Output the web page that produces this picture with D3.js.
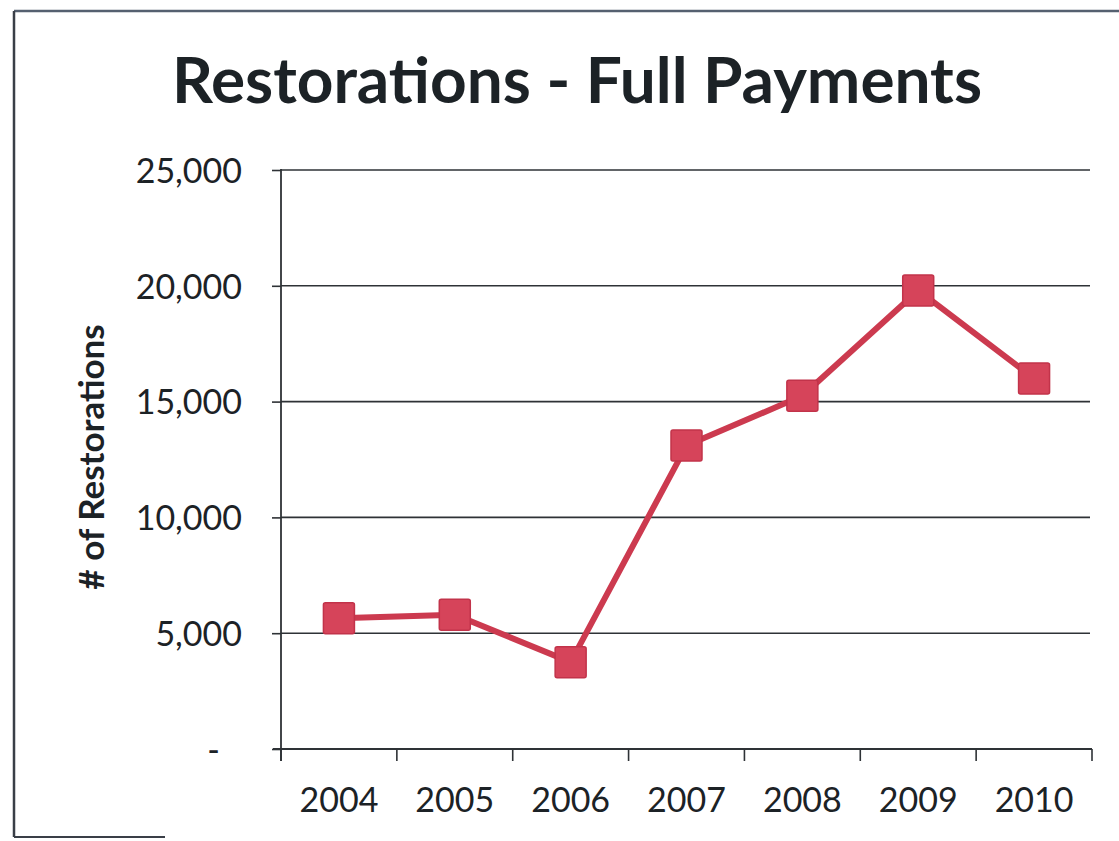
<!DOCTYPE html>
<html>
<head>
<meta charset="utf-8">
<script src="https://cdn.jsdelivr.net/npm/d3@7"></script>
<style>
  html, body { margin: 0; padding: 0; background: #fff; }
  svg { display: block; }
</style>
</head>
<body>
<svg id="chart" width="1119" height="841"></svg>
<script>
// Full-payment restorations per year
const years = ["2004", "2005", "2006", "2007", "2008", "2009", "2010"];
const restorations = [5650, 5800, 3750, 13100, 15250, 19800, 16000];
const yTicks = [0, 5000, 10000, 15000, 20000, 25000];
const titleText = "Restorations - Full Payments";
const yAxisTitle = "# of Restorations";

const svg = d3.select("#chart");
const W = 1119, H = 841;
const plot = { left: 281, right: 1092, top: 170, bottom: 749 };
const font = "Lato, 'Noto Sans', sans-serif";
const ink = "#1c2226";
const lineColor = "#cc3a4f";

svg.append("rect").attr("width", W).attr("height", H).attr("fill", "#fff");

// outer frame of the slide
const frame = svg.append("g").attr("stroke", "#3a3f47").attr("fill", "none");
frame.append("line").attr("x1", 14).attr("x2", W).attr("y1", 11).attr("y2", 11)
  .attr("stroke-width", 2.5).attr("stroke", "#556070");
frame.append("line").attr("x1", 14).attr("x2", 14).attr("y1", 11).attr("y2", 837).attr("stroke-width", 2.5);
frame.append("line").attr("x1", 14).attr("x2", 165).attr("y1", 837).attr("y2", 837).attr("stroke-width", 2);

const x = d3.scaleBand().domain(years).range([plot.left, plot.right]);
const y = d3.scaleLinear().domain([0, 25000]).range([plot.bottom, plot.top]);

// horizontal gridlines
svg.append("g")
  .selectAll("line")
  .data(yTicks.filter(d => d > 0))
  .join("line")
  .attr("x1", plot.left).attr("x2", plot.right - 2)
  .attr("y1", d => y(d)).attr("y2", d => y(d))
  .attr("stroke", "#2e3236").attr("stroke-width", 1.6);

// y axis (zero shown as a dash, accounting style)
const yAxis = svg.append("g")
  .attr("transform", `translate(${plot.left},0)`)
  .call(d3.axisLeft(y).tickValues(yTicks).tickSize(9).tickPadding(30)
    .tickFormat(d => d === 0 ? "-" : d3.format(",")(d)));
yAxis.select(".domain").remove();
yAxis.selectAll(".tick line").attr("stroke", "#2e3236").attr("stroke-width", 1.6);
yAxis.selectAll(".tick text")
  .attr("fill", ink).attr("font-family", font).attr("font-size", 34)
  .attr("dy", "0.36em")
  .attr("dx", d => d === 0 ? -22 : 0);
svg.append("line")
  .attr("x1", plot.left).attr("x2", plot.left)
  .attr("y1", plot.top - 1).attr("y2", plot.bottom + 12)
  .attr("stroke", "#2e3236").attr("stroke-width", 1.8);

// x axis with ticks at category boundaries
svg.append("line")
  .attr("x1", plot.left - 8).attr("x2", plot.right)
  .attr("y1", plot.bottom).attr("y2", plot.bottom)
  .attr("stroke", "#2e3236").attr("stroke-width", 1.8);
const bounds = years.map(d => x(d)).concat([plot.right]);
svg.append("g")
  .selectAll("line")
  .data(bounds)
  .join("line")
  .attr("x1", d => d).attr("x2", d => d)
  .attr("y1", plot.bottom).attr("y2", plot.bottom + 12)
  .attr("stroke", "#2e3236").attr("stroke-width", 1.6);
svg.append("g")
  .selectAll("text")
  .data(years)
  .join("text")
  .attr("x", d => x(d) + x.bandwidth() / 2)
  .attr("y", 812)
  .attr("text-anchor", "middle")
  .attr("font-family", font).attr("font-size", 34).attr("fill", ink)
  .text(d => d);

// series line
const line = d3.line()
  .x((d, i) => x(years[i]) + x.bandwidth() / 2)
  .y(d => y(d));
svg.append("path")
  .datum(restorations)
  .attr("d", line)
  .attr("fill", "none")
  .attr("stroke", lineColor)
  .attr("stroke-width", 6)
  .attr("stroke-linejoin", "round");

// square markers
const ms = 31;
svg.append("g")
  .selectAll("rect")
  .data(restorations)
  .join("rect")
  .attr("x", (d, i) => x(years[i]) + x.bandwidth() / 2 - ms / 2)
  .attr("y", d => y(d) - ms / 2)
  .attr("width", ms).attr("height", ms)
  .attr("rx", 2)
  .attr("fill", "#d6445a")
  .attr("stroke", "#c2334a")
  .attr("stroke-width", 1.5);

// title
svg.append("text")
  .attr("x", 577).attr("y", 103)
  .attr("text-anchor", "middle")
  .attr("font-family", font).attr("font-weight", 700).attr("font-size", 64)
  .attr("fill", ink)
  .attr("textLength", 810).attr("lengthAdjust", "spacingAndGlyphs")
  .text(titleText);

// y axis title
svg.append("text")
  .attr("transform", "translate(104,457) rotate(-90)")
  .attr("text-anchor", "middle")
  .attr("font-family", font).attr("font-weight", 700).attr("font-size", 35)
  .attr("fill", ink)
  .text(yAxisTitle);
</script>
</body>
</html>
